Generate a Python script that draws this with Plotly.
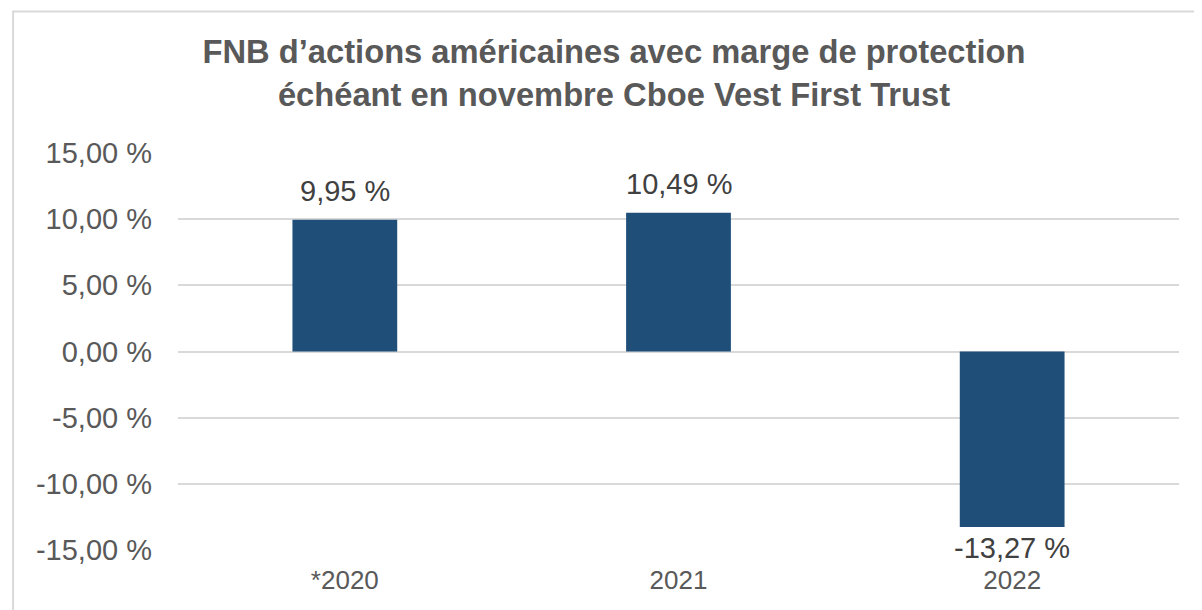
import plotly.graph_objects as go

categories = ["*2020", "2021", "2022"]
values = [9.95, 10.49, -13.27]
tick_vals = [-15, -10, -5, 0, 5, 10, 15]
tick_text = ["-15,00 %", "-10,00 %", "-5,00 %", "0,00 %", "5,00 %", "10,00 %", "15,00 %"]
value_labels = [f"{v:.2f}".replace(".", ",") + " %" for v in values]

title_text = "FNB d’actions américaines avec marge de protection<br>échéant en novembre Cboe Vest First Trust"

FONT = "Arial, Liberation Sans, sans-serif"

fig = go.Figure()
fig.add_trace(go.Bar(
    x=categories,
    y=values,
    width=0.314,
    marker=dict(color="#1F4E79", line=dict(width=0)),
    hoverinfo="skip",
))

# value labels placed at each category's index on the category axis
for i, (v, t) in enumerate(zip(values, value_labels)):
    fig.add_annotation(
        x=i, y=v, xref="x", yref="y", text=t, showarrow=False,
        yanchor="bottom" if v >= 0 else "top",
        yshift=11 if v >= 0 else -3,
        font=dict(family=FONT, size=29, color="#404040"),
    )

# page is offset by the 8px body margin
W, H = 1194, 602
L, R, T, B = 169.5, 23, 145, 60
pw = W - L - R
ph = H - T - B

fig.update_layout(
    width=W, height=H,
    margin=dict(l=L, r=R, t=T, b=B, pad=0),
    paper_bgcolor="white",
    plot_bgcolor="white",
    showlegend=False,
    title=dict(
        text=title_text,
        font=dict(family=FONT, size=32.7, color="#595959", weight="bold"),
        x=606 / W, xref="container", xanchor="center",
        y=1 - 55 / H, yref="container", yanchor="top",
    ),
    xaxis=dict(
        type="category",
        categoryorder="array", categoryarray=categories,
        range=[-0.5, len(categories) - 0.5],
        showgrid=False, zeroline=False, showline=False, ticks="",
        tickfont=dict(family=FONT, size=26, color="#595959"),
        ticklabelstandoff=12,
    ),
    yaxis=dict(
        range=[-15, 15],
        tickvals=tick_vals, ticktext=tick_text,
        showgrid=True, gridcolor="#D9D9D9", gridwidth=2,
        zeroline=False, showline=False, ticks="",
        tickfont=dict(family=FONT, size=29, color="#595959"),
        ticklabelstandoff=25,
    ),
    shapes=[dict(
        type="rect", xref="paper", yref="paper",
        x0=(4.5 - L) / pw, x1=(W + 5 - L) / pw,
        y0=-(B + 10) / ph, y1=(H - B - 3.5) / ph,
        line=dict(color="#D9D9D9", width=2), fillcolor="rgba(0,0,0,0)",
        layer="below",
    )],
)

fig.write_html("out.html")
